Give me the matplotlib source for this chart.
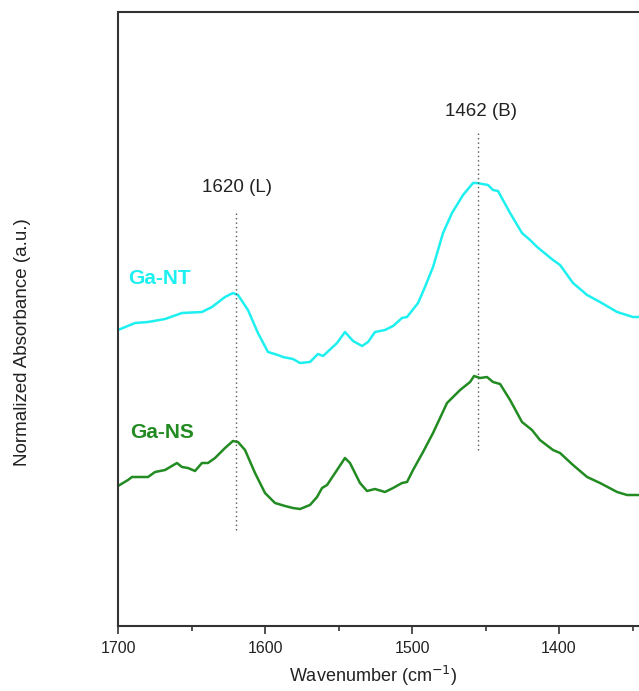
import matplotlib
matplotlib.use("Agg")
import matplotlib.pyplot as plt
from matplotlib.ticker import MultipleLocator

plt.rcParams['font.family'] = ['Liberation Sans', 'DejaVu Sans']

# Ga-NT spectrum (wavenumber, normalized absorbance, offset)
nt_wn = [1700, 1688.4, 1679.6, 1668.0, 1656.5, 1642.9, 1636.1, 1627.2, 1621.8, 1618.4,
         1611.6, 1604.8, 1598.0, 1591.2, 1587.8, 1581.0, 1576.2, 1569.4, 1564.0, 1560.5,
         1551.0, 1545.6, 1540.1, 1534.0, 1529.9, 1525.2, 1518.4, 1512.9, 1506.8, 1503.4,
         1495.9, 1491.2, 1485.7, 1478.9, 1472.8, 1465.3, 1458.5, 1455.8, 1448.3, 1444.9,
         1441.5, 1433.3, 1425.2, 1419.7, 1414.9, 1404.1, 1399.3, 1390.5, 1380.9, 1372.1,
         1360.5, 1349.7, 1345.0]
nt_abs = [2.96, 3.03, 3.04, 3.07, 3.13, 3.14, 3.19, 3.29, 3.33, 3.31,
          3.16, 2.93, 2.74, 2.71, 2.69, 2.67, 2.63, 2.64, 2.72, 2.70,
          2.83, 2.94, 2.85, 2.80, 2.84, 2.94, 2.96, 3.00, 3.08, 3.09,
          3.23, 3.39, 3.59, 3.93, 4.13, 4.31, 4.43, 4.43, 4.41, 4.36,
          4.35, 4.13, 3.93, 3.86, 3.79, 3.66, 3.61, 3.43, 3.31, 3.24,
          3.14, 3.09, 3.09]

# Ga-NS spectrum
ns_wn = [1700, 1693.2, 1690.5, 1679.6, 1674.8, 1668.0, 1659.9, 1656.5, 1652.4, 1647.6,
         1642.9, 1638.8, 1634.0, 1627.2, 1621.8, 1618.4, 1613.6, 1606.8, 1600.0, 1593.2,
         1586.4, 1581.0, 1576.2, 1569.4, 1564.6, 1561.2, 1557.8, 1551.0, 1545.6, 1542.2,
         1535.4, 1530.6, 1525.2, 1518.4, 1512.9, 1506.8, 1503.4, 1499.3, 1492.5, 1485.7,
         1476.2, 1467.3, 1460.5, 1457.8, 1453.7, 1449.0, 1444.9, 1440.1, 1433.3, 1425.2,
         1418.4, 1413.0, 1404.1, 1399.3, 1390.5, 1380.9, 1372.1, 1360.5, 1353.7, 1345.0]
ns_abs = [1.40, 1.46, 1.49, 1.49, 1.54, 1.56, 1.63, 1.59, 1.58, 1.55,
          1.63, 1.63, 1.68, 1.78, 1.85, 1.84, 1.76, 1.53, 1.33, 1.23,
          1.20, 1.18, 1.17, 1.21, 1.29, 1.38, 1.41, 1.56, 1.68, 1.63,
          1.43, 1.35, 1.37, 1.34, 1.38, 1.43, 1.44, 1.56, 1.74, 1.93,
          2.23, 2.36, 2.44, 2.50, 2.48, 2.49, 2.44, 2.42, 2.26, 2.04,
          1.96, 1.86, 1.76, 1.73, 1.61, 1.49, 1.43, 1.34, 1.31, 1.31]

peak_pos = [1620, 1455]
peak_labels = ['1620 (L)', '1462 (B)']
peak_line_ymin = [0.96, 1.76]
peak_line_ymax = [4.13, 4.93]
peak_label_y = [4.38, 5.14]
peak_label_x = [1619, 1453]

series_names = ['Ga-NT', 'Ga-NS']
series_colors = ['#1ef0f0', '#228b22']

W, H = 639, 691
fig = plt.figure(figsize=(W / 100, H / 100), dpi=100)
ax = fig.add_axes([118 / W, 1 - 626 / H, (639 - 118) / W, (626 - 12) / H])

ax.plot(nt_wn, nt_abs, color=series_colors[0], lw=1.8,
        solid_joinstyle='round', solid_capstyle='round')
ax.plot(ns_wn, ns_abs, color=series_colors[1], lw=1.8,
        solid_joinstyle='round', solid_capstyle='round')

for xp, y0, y1, lab, lx, ly in zip(peak_pos, peak_line_ymin, peak_line_ymax,
                                   peak_labels, peak_label_x, peak_label_y):
    ax.plot([xp, xp], [y0, y1], color='#555555', lw=1.0, ls=(0, (1, 2.2)))
    ax.text(lx, ly, lab, ha='center', va='center', fontsize=13.5, color='#222222')

ax.text(1672, 3.47, series_names[0], color=series_colors[0], fontsize=15,
        fontweight='bold', ha='center', va='center')
ax.text(1670, 1.93, series_names[1], color=series_colors[1], fontsize=15,
        fontweight='bold', ha='center', va='center')

ax.set_xlim(1700, 1345.6)
ax.set_ylim(0, 6.14)
ax.xaxis.set_major_locator(MultipleLocator(100))
ax.xaxis.set_minor_locator(MultipleLocator(50))
ax.tick_params(axis='x', which='major', length=6, width=1.2, direction='out',
               labelsize=11.5, colors='#333333', labelcolor='#222222', pad=5)
ax.tick_params(axis='x', which='minor', length=3.5, width=1.2, direction='out',
               colors='#333333')
ax.set_yticks([])
for s in ['left', 'bottom', 'top']:
    ax.spines[s].set_linewidth(1.5)
    ax.spines[s].set_color('#333333')
ax.spines['right'].set_visible(False)

ax.set_xlabel('Wavenumber (cm$^{-1}$)', fontsize=13, color='#222222')
ax.xaxis.set_label_coords((373 - 118) / (639 - 118), -(676 - 626) / 614)
ax.xaxis.label.set_va('center')
ax.set_ylabel('Normalized Absorbance (a.u.)', fontsize=13.5, color='#222222')
ax.yaxis.set_label_coords(-(118 - 23) / (639 - 118), (626 - 342) / 614)
ax.yaxis.label.set_va('center')

fig.savefig('out.png', dpi=100)
